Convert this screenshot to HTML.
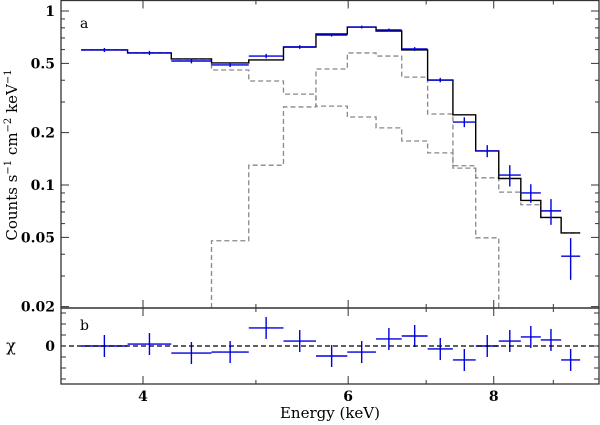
<!DOCTYPE html>
<html><head><meta charset="utf-8"><style>
body{margin:0;background:#fff}
svg{display:block}
text{font-family:"DejaVu Serif","Liberation Serif",serif}
</style></head><body>
<svg id="c" width="600" height="425" viewBox="0 0 600 425"></svg>
<script>
// ---- data ----
const binEdges=[3.54,3.88,4.23,4.58,4.93,5.28,5.63,5.99,6.34,6.67,7.02,7.38,7.72,8.08,8.44,8.78,9.14,9.49];
const dataCounts=[0.597,0.574,0.516,0.49,0.551,0.621,0.728,0.809,0.778,0.605,0.401,0.230,0.157,0.114,0.090,0.071,0.039];
const dataErr=[0.016,0.016,0.016,0.014,0.016,0.015,0.015,0.015,0.015,0.015,0.012,0.015,0.0125,0.016,0.011,0.012,0.0105];
const modelCounts=[0.597,0.574,0.530,0.503,0.523,0.621,0.738,0.809,0.767,0.597,0.401,0.253,0.157,0.109,0.0815,0.0651,0.0530];
const compA=[0.597,0.574,0.530,0.458,0.396,0.333,0.284,0.246,0.213,0.179,0.153,0.129,0.110,0.091,0.077,0.065,0.053];
const compB=[0,0,0,0.0478,0.130,0.281,0.464,0.574,0.551,0.417,0.256,0.125,0.0497,0,0,0,0];
const residuals=[0,0.18,-0.64,-0.55,1.64,0.45,-0.91,-0.55,0.64,0.91,-0.27,-1.27,0,0.45,0.82,0.55,-1.27];
const yTickVals=[1,0.5,0.2,0.1,0.05,0.02];
const yTickLabels=["1","0.5","0.2","0.1","0.05","0.02"];
const xTickVals=[4,6,8];
const xTickLabels=["4","6","8"];

const NS="http://www.w3.org/2000/svg";
const svg=document.getElementById('c');
const L=61,R=599,T=0.5,M=308,B=384;
const X=e=>143+506*Math.log(e/4);
const Y=v=>11-174*Math.log10(v);
const YR=r=>346-11*r;
function el(t,a,p){const e=document.createElementNS(NS,t);for(const k in a)e.setAttribute(k,a[k]);(p||svg).appendChild(e);return e;}

function stepPath(vals){
  let d="",pen=false;
  for(let i=0;i<vals.length;i++){
    const x0=X(binEdges[i]),x1=X(binEdges[i+1]);
    const v=vals[i];
    const y=v>0?Math.min(Y(v),M):M;
    if(!pen){ if(v>0){d+=`M${x0},${i>0?M:y}L${x0},${y}L${x1},${y}`;pen=true;} }
    else{ d+=`L${x0},${y}L${x1},${y}`; if(!(v>0)){pen=false;} }
  }
  return d;
}
const clip=el('clipPath',{id:'cp'});el('rect',{x:L,y:0,width:R-L,height:M},clip);
const pA=el('path',{d:stepPath(compA),fill:'none',stroke:'#888',"stroke-width":1.3,"stroke-dasharray":"5,3","clip-path":"url(#cp)"});


const pB=el('path',{d:stepPath(compB),fill:'none',stroke:'#888',"stroke-width":1.3,"stroke-dasharray":"5,3","clip-path":"url(#cp)"});


const pM=el('path',{d:stepPath(modelCounts),fill:'none',stroke:'#000',"stroke-width":1.4});



for(let i=0;i<dataCounts.length;i++){
  const x0=X(binEdges[i]),x1=X(binEdges[i+1]),xc=(x0+x1)/2;
  const g=el('g',{stroke:'#0000dd',"stroke-width":1.4});
  
  
  const y=Y(dataCounts[i]);
  el('line',{x1:x0,x2:x1,y1:y,y2:y},g);
  el('line',{x1:xc,x2:xc,y1:Y(dataCounts[i]+dataErr[i]),y2:Y(dataCounts[i]-dataErr[i])},g);
  const g2=el('g',{stroke:'#0000dd',"stroke-width":1.4});
  
  
  const yr=YR(residuals[i]);
  el('line',{x1:x0,x2:x1,y1:yr,y2:yr},g2);
  el('line',{x1:xc,x2:xc,y1:YR(residuals[i]+1),y2:YR(residuals[i]-1)},g2);
}
const zl=el('line',{x1:L,x2:R,y1:YR(0),y2:YR(0),stroke:'#000',"stroke-width":1.2,"stroke-dasharray":"5,3"});



const f1=el('rect',{x:L,y:T,width:R-L,height:M-T,fill:'none',stroke:'#333',"stroke-width":1.3});

const f2=el('rect',{x:L,y:M,width:R-L,height:B-M,fill:'none',stroke:'#333',"stroke-width":1.3});


const tk=el('g',{stroke:'#333',"stroke-width":1});

for(let d of [0.01,0.1,1]){for(let k=1;k<10;k++){const v=d*k;if(v<0.0195||v>1.15)continue;const y=Y(v);const len=(k===1||k===2||k===5)?8:4;
  el('line',{x1:L,x2:L+len,y1:y,y2:y},tk);el('line',{x1:R-len,x2:R,y1:y,y2:y},tk);}}
for(let r=-3;r<=3;r++){const y=YR(r);el('line',{x1:L,x2:L+5,y1:y,y2:y},tk);el('line',{x1:R-5,x2:R,y1:y,y2:y},tk);}
for(let e=4;e<=9;e++){const x=X(e);const len=(e%2===0)?8:4;
  for(const [a,b] of [[T,T+len],[M-len,M],[M,M+len],[B-len,B]])el('line',{x1:x,x2:x,y1:a,y2:b},tk);}
yTickVals.forEach((v,i)=>{const t=el('text',{x:55,y:Y(v)+5,"text-anchor":"end","font-size":14,"font-weight":"bold"});t.textContent=yTickLabels[i];
  });
const t0=el('text',{x:55,y:351,"text-anchor":"end","font-size":14,"font-weight":"bold"});t0.textContent="0";

xTickVals.forEach((v,i)=>{const t=el('text',{x:X(v),y:401,"text-anchor":"middle","font-size":14,"font-weight":"bold"});t.textContent=xTickLabels[i];
  });
</script>
<svg width="600" height="425" style="position:absolute;left:0;top:0">
<text x="330" y="418" text-anchor="middle" font-size="15">Energy (keV)</text>
<text transform="translate(17,155) rotate(-90)" text-anchor="middle" font-size="15">Counts s<tspan dy="-6" font-size="10">−1</tspan><tspan dy="6"> cm</tspan><tspan dy="-6" font-size="10">−2</tspan><tspan dy="6"> keV</tspan><tspan dy="-6" font-size="10">−1</tspan></text>
<text x="11" y="351" text-anchor="middle" font-size="16">χ</text>
<text x="80" y="28" font-size="14">a</text>
<text x="80" y="330" font-size="14">b</text>
</svg>
</body></html>
